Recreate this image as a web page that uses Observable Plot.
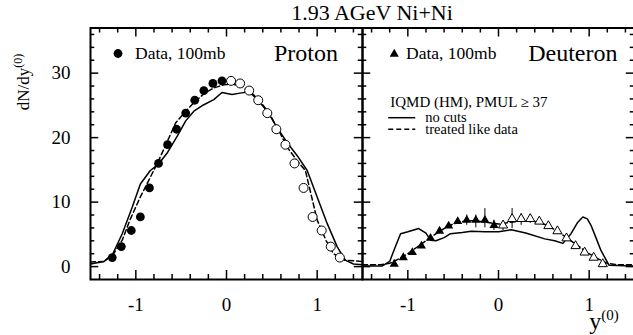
<!DOCTYPE html>
<html><head><meta charset="utf-8">
<script src="https://cdn.jsdelivr.net/npm/d3@7"></script>
<script src="https://cdn.jsdelivr.net/npm/@observablehq/plot@0.6"></script>
<style>body{margin:0;background:#fff} svg{display:block}</style>
</head><body><div id="chart"></div>
<script>
// ---------- data ----------
const panels = ["Proton", "Deuteron"];
const titleText = "1.93 AGeV Ni+Ni";
const dataLabel = "Data, 100mb";
const modelLabels = ["IQMD (HM), PMUL \u2265 37", "no cuts", "treated like data"];

const xLabelTicks = [-1, 0, 1];
const xMajorTicks = [-1, 0, 1];
const xMinorTicks = [-1.4, -1.2, -0.8, -0.6, -0.4, -0.2, 0.2, 0.4, 0.6, 0.8, 1.2, 1.4];
const yLabelTicks = [0, 10, 20, 30];
const yMajorTicks = [0, 10, 20, 30];
const yMinorTicks = [2, 4, 6, 8, 12, 14, 16, 18, 22, 24, 26, 28, 32, 34, 36];

// Proton
const pFilledX = [-1.26, -1.16, -1.05, -0.95, -0.85, -0.75, -0.65, -0.55, -0.45, -0.35, -0.25, -0.15, -0.05];
const pFilledY = [1.4, 3.1, 5.6, 7.7, 12.2, 16.0, 18.9, 21.3, 23.8, 25.8, 27.3, 28.4, 28.8];
const pOpenX = [0.05, 0.15, 0.25, 0.35, 0.45, 0.55, 0.65, 0.75, 0.85, 0.95, 1.05, 1.15, 1.25];
const pOpenY = [28.8, 28.4, 27.3, 25.8, 23.8, 21.3, 18.9, 16.0, 12.2, 7.7, 5.6, 3.1, 1.4];
const pSolidX = [-1.5, -1.35, -1.26, -1.15, -1.04, -0.95, -0.84, -0.75, -0.65, -0.54, -0.45, -0.36, -0.25, -0.14, -0.05, 0.06, 0.15, 0.25, 0.34, 0.45, 0.56, 0.67, 0.78, 0.89, 1.0, 1.11, 1.22, 1.31, 1.40, 1.5];
const pSolidY = [0.4, 0.8, 1.8, 5.1, 9.2, 12.8, 14.9, 15.9, 17.7, 20.3, 22.6, 24.1, 25.1, 25.9, 27.0, 26.7, 26.9, 27.1, 25.9, 24.1, 21.5, 19.2, 17.2, 14.9, 10.8, 6.7, 3.1, 1.0, 0.4, 0.3];
const pDashX = [-1.5, -1.35, -1.24, -1.15, -1.06, -0.95, -0.86, -0.75, -0.65, -0.56, -0.45, -0.36, -0.25, -0.14, -0.03, 0.06, 0.17, 0.26, 0.37, 0.47, 0.58, 0.67, 0.78, 0.87, 1.0, 1.1, 1.18, 1.3, 1.5];
const pDashY = [0.7, 0.8, 2.1, 4.1, 7.4, 10.8, 13.3, 16.4, 19.5, 22.3, 24.1, 25.4, 26.8, 27.7, 28.2, 28.3, 28.0, 27.2, 25.6, 23.8, 21.0, 18.5, 16.4, 14.9, 7.2, 4.0, 2.0, 1.0, 0.8];

// Deuteron
const dFilledX = [-1.15, -1.05, -0.95, -0.85, -0.75, -0.65, -0.55, -0.45, -0.35, -0.25, -0.15, -0.05];
const dFilledY = [0.4, 1.4, 2.2, 3.2, 4.4, 5.5, 6.3, 7.0, 7.2, 7.2, 7.2, 6.4];
const dOpenX = [0.05, 0.15, 0.25, 0.35, 0.45, 0.55, 0.65, 0.75, 0.85, 0.95, 1.05, 1.15];
const dOpenY = [6.4, 7.4, 7.4, 7.4, 7.0, 6.3, 5.5, 4.4, 3.2, 2.2, 1.4, 0.4];
const dErrX = [-0.35, -0.25, -0.15, -0.05, 0.05, 0.15, 0.25, 0.35];
const dErrLo = [6.4, 6.0, 6.0, 5.6, 5.6, 5.9, 6.4, 6.7];
const dErrHi = [8.0, 8.0, 9.0, 7.2, 7.0, 9.0, 8.2, 8.0];
const dSolidX = [-1.5, -1.28, -1.2, -1.14, -1.08, -1.0, -0.88, -0.8, -0.75, -0.69, -0.6, -0.53, -0.4, -0.3, -0.15, 0.0, 0.14, 0.3, 0.51, 0.62, 0.71, 0.8, 0.87, 0.93, 0.98, 1.02, 1.08, 1.13, 1.22, 1.5];
const dSolidY = [0.1, 0.1, 0.8, 3.0, 5.1, 5.4, 5.9, 5.2, 4.1, 4.0, 4.5, 5.1, 5.3, 5.5, 5.4, 5.4, 5.7, 5.2, 4.3, 4.0, 3.6, 5.1, 6.8, 7.7, 7.4, 6.4, 4.3, 2.5, 0.2, 0.1];
const dDashX = [-1.5, -1.3, -1.2, -1.1, -1.0, -0.9, -0.8, -0.7, -0.6, -0.5, -0.4, -0.3, -0.2, -0.1, 0.0, 0.1, 0.2, 0.3, 0.4, 0.5, 0.6, 0.7, 0.8, 0.9, 1.0, 1.1, 1.2, 1.3, 1.5];
const dDashY = [0.3, 0.3, 0.5, 1.2, 2.0, 3.0, 4.0, 5.0, 5.9, 6.6, 7.0, 7.1, 7.0, 6.8, 6.6, 6.8, 7.0, 7.1, 7.0, 6.6, 5.9, 5.0, 4.0, 3.0, 2.0, 1.2, 0.5, 0.3, 0.3];

// ---------- build tables ----------
const rows = (xs, ys, panel) => xs.map((x, i) => ({x, y: ys[i], panel}));
const errRows = dErrX.map((x, i) => ({x, lo: dErrLo[i], hi: dErrHi[i], panel: "Deuteron"}));

const W = 633, H = 335;
const mT = 27.5, mB = 56, mL = 89.5, mR = -2;
const fh = H - mT - mB;
const fw = (W - mR - mL) / 2;
const font = "Liberation Serif";
const tw = 1.5;

// inward ticks on all four sides of every panel
const ticksX = (ticks, len) => [
  Plot.tickX(ticks, {x: d => d, insetTop: fh - len, stroke: "black", strokeWidth: tw}),
  Plot.tickX(ticks, {x: d => d, insetBottom: fh - len, stroke: "black", strokeWidth: tw})
];
const ticksY = (ticks, len) => [
  Plot.tickY(ticks, {y: d => d, insetRight: fw - len, stroke: "black", strokeWidth: tw}),
  Plot.tickY(ticks, {y: d => d, insetLeft: fw - len, stroke: "black", strokeWidth: tw})
];

const legendText = (panel, t, anchor, dx, dy, size, textAnchor) =>
  Plot.text([{panel, t}], {fx: "panel", text: "t", frameAnchor: anchor, dx, dy, textAnchor, lineAnchor: "middle", fontSize: size, fill: "black"});

const chart = Plot.plot({
  width: W, height: H,
  marginTop: mT, marginBottom: mB, marginLeft: mL, marginRight: mR,
  style: {fontFamily: font, background: "white", color: "black"},
  fx: {domain: panels, padding: 0, axis: null, label: null},
  x: {domain: [-1.5, 1.5]},
  y: {domain: [-2, 37]},
  marks: [
    // tick labels
    Plot.axisX({ticks: xLabelTicks, tickSize: 0, tickPadding: 18, fontSize: 19, label: null, tickFormat: d => String(d), fill: "black"}),
    Plot.axisY({ticks: yLabelTicks, tickSize: 0, tickPadding: 20, fontSize: 19, label: null, tickFormat: d => String(d), fill: "black"}),
    // model curves
    Plot.line(rows(pSolidX, pSolidY, "Proton"), {x: "x", y: "y", fx: "panel", stroke: "black", strokeWidth: 1.5}),
    Plot.line(rows(pDashX, pDashY, "Proton"), {x: "x", y: "y", fx: "panel", stroke: "black", strokeWidth: 1.5, strokeDasharray: "5,3"}),
    Plot.line(rows(dSolidX, dSolidY, "Deuteron"), {x: "x", y: "y", fx: "panel", stroke: "black", strokeWidth: 1.5}),
    Plot.line(rows(dDashX, dDashY, "Deuteron"), {x: "x", y: "y", fx: "panel", stroke: "black", strokeWidth: 1.5, strokeDasharray: "5,3"}),
    // error bars
    Plot.ruleX(errRows, {x: "x", y1: "lo", y2: "hi", fx: "panel", stroke: "black", strokeWidth: 1}),
    // data
    Plot.dot(rows(pFilledX, pFilledY, "Proton"), {x: "x", y: "y", fx: "panel", r: 4.4, fill: "black", stroke: "none"}),
    Plot.dot(rows(pOpenX, pOpenY, "Proton"), {x: "x", y: "y", fx: "panel", r: 4.5, fill: "white", stroke: "black", strokeWidth: 1}),
    Plot.dot(rows(dFilledX, dFilledY, "Deuteron"), {x: "x", y: "y", fx: "panel", r: 3.4, symbol: "triangle", fill: "black", stroke: "none"}),
    Plot.dot(rows(dOpenX, dOpenY, "Deuteron"), {x: "x", y: "y", fx: "panel", r: 3.4, symbol: "triangle", fill: "white", stroke: "black", strokeWidth: 1}),
    // inward ticks
    ...ticksX(xMinorTicks, 5),
    ...ticksX(xMajorTicks, 9),
    ...ticksY(yMinorTicks, 5),
    ...ticksY(yMajorTicks, 9),
    // frame
    Plot.frame({stroke: "black", strokeWidth: 2}),
    // legends inside panels
    Plot.dot([{panel: "Proton"}], {fx: "panel", frameAnchor: "top-left", dx: 27.5, dy: 25.5, r: 4.4, fill: "black"}),
    legendText("Proton", dataLabel, "top-left", 44.5, 25.2, 17.5, "start"),
    legendText("Proton", "Proton", "top-right", -24.5, 25.2, 24, "end"),
    Plot.dot([{panel: "Deuteron"}], {fx: "panel", frameAnchor: "top-left", dx: 31.75, dy: 26, r: 3.4, symbol: "triangle", fill: "black"}),
    legendText("Deuteron", dataLabel, "top-left", 43.5, 25.2, 17.5, "start"),
    legendText("Deuteron", "Deuteron", "top-right", -17, 25.2, 24, "end"),
    legendText("Deuteron", modelLabels[0], "top-left", 27.75, 74.5, 15, "start"),
    legendText("Deuteron", modelLabels[1], "top-left", 62.75, 89, 14.5, "start"),
    legendText("Deuteron", modelLabels[2], "top-left", 62.75, 101.6, 14.5, "start")
  ]
});

document.getElementById("chart").appendChild(chart);

// ---------- annotations (title, axis labels with superscripts, legend line samples) ----------
const svg = d3.select(chart.tagName.toLowerCase() === "svg" ? chart : chart.querySelector("svg"));
const ann = svg.append("g").attr("font-family", font).attr("fill", "black");

ann.append("text").attr("x", 372).attr("y", 20).attr("text-anchor", "middle").attr("font-size", 22).text(titleText);

const yl = ann.append("text").attr("transform", "translate(29,82) rotate(-90)").attr("font-size", 17);
yl.append("tspan").text("dN/dy");
yl.append("tspan").attr("dy", -7).attr("font-size", 12).text("(0)");

const xl = ann.append("text").attr("x", 604).attr("y", 329).attr("font-size", 24);
xl.append("tspan").text("y");
xl.append("tspan").attr("dy", -9).attr("font-size", 15).text("(0)");

const legX0 = mL + fw + 26, legX1 = mL + fw + 53;
ann.append("line").attr("x1", legX0).attr("x2", legX1).attr("y1", mT + 90.2).attr("y2", mT + 90.2)
  .attr("stroke", "black").attr("stroke-width", 1.5);
ann.append("line").attr("x1", legX0).attr("x2", legX1).attr("y1", mT + 101.8).attr("y2", mT + 101.8)
  .attr("stroke", "black").attr("stroke-width", 1.5).attr("stroke-dasharray", "5,3");
</script>
</body></html>
